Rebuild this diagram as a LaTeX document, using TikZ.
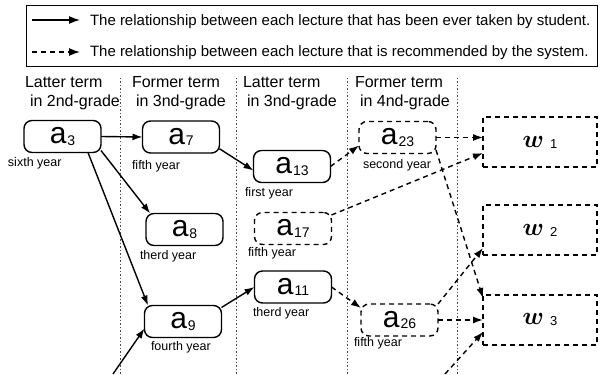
\documentclass[tikz,border=0pt]{standalone}
\usepackage{fontspec}
\usepackage{bm}
\setmainfont{Liberation Sans}
\usetikzlibrary{arrows.meta}
% small index set after a lecture letter
\newcommand\lsub[1]{\kern1pt\raisebox{-1.5pt}{\fontsize{14}{14}\selectfont #1}}
\newcommand\wsub[1]{\kern6pt\raisebox{-1pt}{\fontsize{13}{13}\selectfont #1}}
\begin{document}
\begin{tikzpicture}[x=1pt,y=-1pt,
  every node/.style={inner sep=0pt, outer sep=0pt},
  lec/.style={draw, line width=1.4pt, rounded corners=8pt, minimum width=77pt, minimum height=32pt, font=\fontsize{30}{30}\selectfont},
  rec/.style={lec, dash pattern=on 5pt off 4pt},
  goal/.style={draw, line width=1.4pt, dash pattern=on 5pt off 4pt, minimum width=114pt, minimum height=50pt, font=\fontsize{32}{32}\selectfont},
  head/.style={anchor=base west, font=\fontsize{16}{16}\selectfont},
  yr/.style={anchor=base west, font=\fontsize{12.5}{12.5}\selectfont},
  legtext/.style={anchor=base west, font=\fontsize{15}{15}\selectfont},
  taken/.style={line width=1.4pt, -{Latex[length=10pt,width=7pt]}},
  recom/.style={taken, dash pattern=on 5pt off 4pt},
  term/.style={line width=1pt, dash pattern=on 1.5pt off 2pt, gray!60!black},
]
\useasboundingbox (0,0) rectangle (601,374);

% legend
\draw[line width=0.7pt] (26,5) rectangle (597,66);
\coordinate (l1s) at (32,20);
\coordinate (l1e) at (80,20);
\coordinate (l2s) at (32,52);
\coordinate (l2e) at (80,52);
\draw[line width=1.3pt, -{Latex[length=11pt,width=8pt]}] (l1s) -- (l1e);
\draw[line width=1.3pt, dash pattern=on 5pt off 4pt, -{Latex[length=11pt,width=8pt]}] (l2s) -- (l2e);
\node[legtext] (leg1) at (90,26) {The relationship between each lecture that has been ever taken by student.};
\node[legtext] (leg2) at (90,57) {The relationship between each lecture that is recommended by the system.};

% term separators
\foreach \x in {120,236,347,457} \draw[term] (\x,78) -- (\x,374);

% term headings
\node[head] (h1a) at (25,88) {Latter term};
\node[head] (h1b) at (30,107) {in 2nd-grade};
\node[head] (h2a) at (132,88) {Former term};
\node[head] (h2b) at (136,107) {in 3nd-grade};
\node[head] (h3a) at (243,88) {Latter term};
\node[head] (h3b) at (247,107) {in 3nd-grade};
\node[head] (h4a) at (355,88) {Former term};
\node[head] (h4b) at (360,107) {in 4nd-grade};

% lectures
\node[lec] (a3)  at (62.5,136.5) {a\lsub{3}};
\node[lec] (a7)  at (181,137)    {a\lsub{7}};
\node[lec] (a8)  at (184.5,229.5){a\lsub{8}};
\node[lec] (a9)  at (183,321.5)  {a\lsub{9}};
\node[lec] (a13) at (292,166.5)  {a\lsub{13}};
\node[rec] (a17) at (293,228.5)  {a\lsub{17}};
\node[lec] (a11) at (293,287)    {a\lsub{11}};
\node[rec] (a23) at (397.5,137.5){a\lsub{23}};
\node[rec] (a26) at (399.5,320)  {a\lsub{26}};

% goals
\node[goal] (w1) at (540,142) {$\bm{w}$\wsub{1}};
\node[goal] (w2) at (540,230) {$\bm{w}$\wsub{2}};
\node[goal] (w3) at (540,320) {$\bm{w}$\wsub{3}};

% years
\node[yr] (y3)  at (8,166.7)   {sixth year};
\node[yr] (y7)  at (132,169)   {fifth year};
\node[yr] (y8)  at (140,259)   {therd year};
\node[yr] (y9)  at (151,350)   {fourth year};
\node[yr] (y13) at (245,196.7) {first year};
\node[yr] (y17) at (248,256.7) {fifth year};
\node[yr] (y11) at (253,316)   {therd year};
\node[yr] (y23) at (363,168)   {second year};
\node[yr] (y26) at (354,346)   {fifth year};

% loose ends entering from below
\coordinate (in9) at (113,374);
\coordinate (inw3) at (445,374);

% taken
\draw[taken] (a3.east) -- (a7.west);
\draw[taken] (a3.-20) -- (a8.155);
\draw[taken] ([xshift=25.5pt]a3.south) -- ([xshift=-35pt]a9.north);
\draw[taken] (a7.-17) -- ([yshift=-4pt]a13.west);
\draw[taken] (a9.20) -- (a11.west);
\draw[taken] (in9) -- ([yshift=-7pt]a9.west);

% recommended
\draw[recom] (a13.east) -- ([yshift=-8pt]a23.west);
\draw[recom] (a11.east) -- ([yshift=12pt]a26.west);
\draw[recom] (a23.east) -- (a23.east -| w1.west);
\draw[recom] ([yshift=13.5pt]a17.east) -- ([yshift=-11pt]w1.west);
\draw[recom] (a23.-18) -- ([yshift=-3pt]w3.north west);
\draw[recom] (a26.north east) -- ([yshift=7pt]w2.south west);
\draw[recom] (a26.east) -- (w3.west);
\draw[recom] (inw3) -- ([yshift=-12pt]w3.west);
\end{tikzpicture}
\end{document}
